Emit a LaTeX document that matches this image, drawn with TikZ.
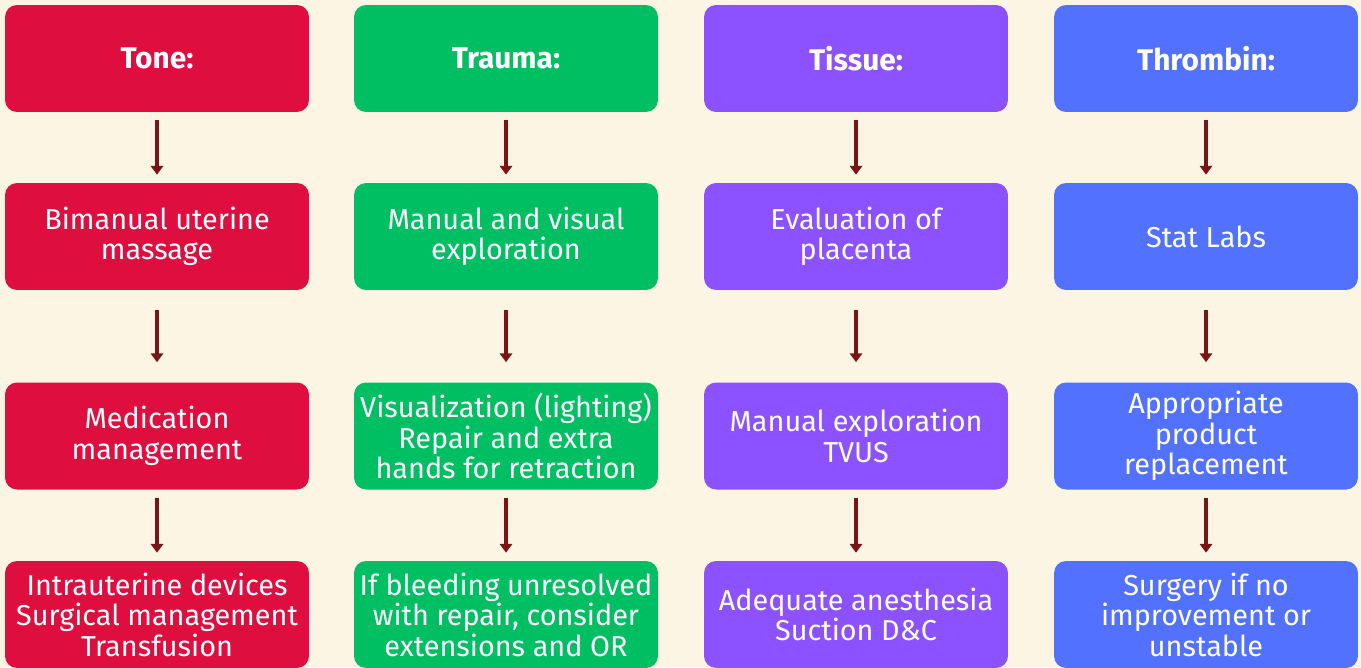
\documentclass[tikz,border=0pt]{standalone}
\usepackage{fontspec}
\setmainfont{Fira Sans}
\usetikzlibrary{arrows.meta}

\definecolor{cream}{HTML}{FDF5E4}
\definecolor{tonered}{HTML}{DE0F3F}
\definecolor{traumagreen}{HTML}{00BF63}
\definecolor{tissuepurple}{HTML}{8C52FF}
\definecolor{thrombinblue}{HTML}{5271FF}
\definecolor{arrowred}{HTML}{7B1515}

\tikzset{
    box/.style={rectangle, rounded corners=0.24cm, minimum width=6.08cm,
        minimum height=2.14cm, inner sep=0pt, align=center, text=white,
        font=\fontsize{16.4}{17.4}\selectfont},
    head/.style={box, font=\fontsize{17}{18}\selectfont\bfseries},
    flow/.style={-{Triangle[width=7pt,length=5pt]}, line width=2.2pt,
        arrowred, shorten <=0.16cm, shorten >=0.16cm},
    flowlong/.style={flow, shorten <=0.4cm, shorten >=0.4cm},
}

\begin{document}
\begin{tikzpicture}[x=0.02cm, y=-0.02cm]
        \fill[cream] (0,0) rectangle (1361,667);
        \useasboundingbox (0,0) rectangle (1361,667);
        \clip (0,0) rectangle (1361,667);

        % Tone
        \node[head, fill=tonered] (tone) at (157, 58.5) {Tone:};
        \node[box, fill=tonered] (massage) at (157, 236.5) {Bimanual uterine\\massage};
        \node[box, fill=tonered] (meds) at (157, 436) {Medication\\management};
        \node[box, fill=tonered] (devices) at (157, 614.5) {Intrauterine devices\\Surgical management\\Transfusion};

        % Trauma
        \node[head, fill=traumagreen] (trauma) at (506, 58.5) {Trauma:};
        \node[box, fill=traumagreen] (explore) at (506, 236.5) {Manual and visual\\exploration};
        \node[box, fill=traumagreen] (repair) at (506, 436) {Visualization (lighting)\\Repair and extra\\hands for retraction};
        \node[box, fill=traumagreen] (unresolved) at (506, 614.5) {If bleeding unresolved\\with repair, consider\\extensions and OR};

        % Tissue
        \node[head, fill=tissuepurple] (tissue) at (856, 58.5) {Tissue:};
        \node[box, fill=tissuepurple] (placenta) at (856, 236.5) {Evaluation of\\placenta};
        \node[box, fill=tissuepurple] (tvus) at (856, 436) {Manual exploration\\TVUS};
        \node[box, fill=tissuepurple] (suction) at (856, 614.5) {Adequate anesthesia\\Suction D\&C};

        % Thrombin
        \node[head, fill=thrombinblue] (thrombin) at (1206, 58.5) {Thrombin:};
        \node[box, fill=thrombinblue] (labs) at (1206, 236.5) {Stat Labs};
        \node[box, fill=thrombinblue] (product) at (1206, 436) {Appropriate\\product\\replacement};
        \node[box, fill=thrombinblue] (surgery) at (1206, 614.5) {Surgery if no\\improvement or\\unstable};

        \draw[flow] (tone) -- (massage);
        \draw[flowlong] (massage) -- (meds);
        \draw[flow] (meds) -- (devices);

        \draw[flow] (trauma) -- (explore);
        \draw[flowlong] (explore) -- (repair);
        \draw[flow] (repair) -- (unresolved);

        \draw[flow] (tissue) -- (placenta);
        \draw[flowlong] (placenta) -- (tvus);
        \draw[flow] (tvus) -- (suction);

        \draw[flow] (thrombin) -- (labs);
        \draw[flowlong] (labs) -- (product);
        \draw[flow] (product) -- (surgery);

    \end{tikzpicture}
\end{document}
